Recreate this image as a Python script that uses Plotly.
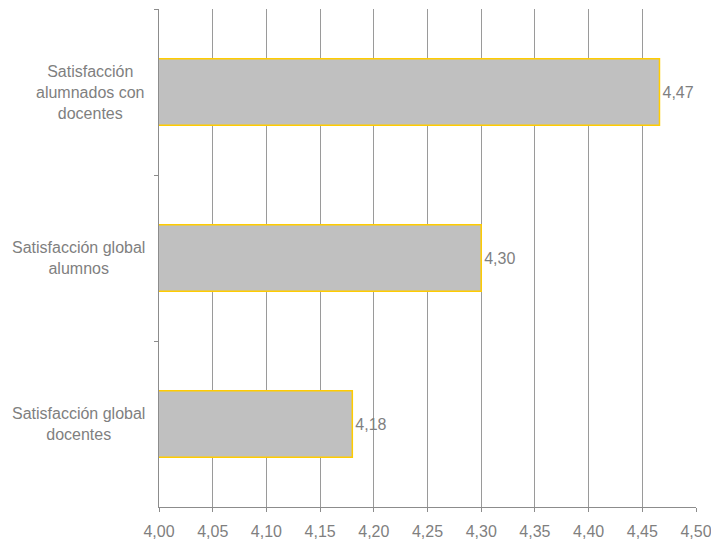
import plotly.graph_objects as go

categories = ["Satisfacción alumnados con docentes", "Satisfacción global alumnos", "Satisfacción global docentes"]
category_labels = ["Satisfacción<br>alumnados con<br>docentes", "Satisfacción global<br>alumnos", "Satisfacción global<br>docentes"]
values = [4.466, 4.30, 4.18]
x_ticks = [4.00, 4.05, 4.10, 4.15, 4.20, 4.25, 4.30, 4.35, 4.40, 4.45, 4.50]
x_tick_text = [f"{v:.2f}".replace(".", ",") for v in x_ticks]

text_color = "#7F7F7F"
font_family = "Liberation Sans, Arial, sans-serif"
fs = 16

fig = go.Figure()
fig.add_trace(go.Bar(
    x=values,
    y=categories,
    orientation="h",
    width=0.4,
    marker=dict(color="#C0C0C0", line=dict(color="#FFCC00", width=1.5)),
    texttemplate="%{x:.2f}",
    textposition="outside",
    textfont=dict(color=text_color, size=fs, family=font_family),
    cliponaxis=False,
    showlegend=False,
))

for cat, lab in zip(categories, category_labels):
    fig.add_annotation(
        x=0, xref="paper", y=cat, yref="y",
        text=lab, showarrow=False, xanchor="right", xshift=-12,
        align="center", font=dict(color=text_color, size=fs, family=font_family),
    )

fig.update_layout(
    width=711, height=542,
    margin=dict(l=159, r=15, t=9, b=35),
    paper_bgcolor="white", plot_bgcolor="white",
    separators=",.",
    font=dict(family=font_family, color=text_color, size=fs),
    bargap=0.6,
)
fig.update_xaxes(
    range=[4.0, 4.5], tickvals=x_ticks, ticktext=x_tick_text,
    showgrid=True, gridcolor="#9A9A9A", gridwidth=1,
    showline=True, linecolor="#8C8C8C", linewidth=1,
    ticks="outside", ticklen=4, tickcolor="#8C8C8C", ticklabelstandoff=6,
    ticklabeloverflow="allow", automargin=False,
    zeroline=False, tickfont=dict(color=text_color, size=fs),
)
fig.update_yaxes(
    autorange="reversed", showticklabels=False, automargin=False,
    showline=True, linecolor="#8C8C8C", linewidth=1,
    ticks="outside", ticklen=4, tickcolor="#8C8C8C", tickson="boundaries",
    showgrid=False, zeroline=False,
)

fig.write_html(
    "out.html",
    config={"displayModeBar": False},
    post_script="document.body.style.margin='0';document.body.style.overflow='hidden';",
)
